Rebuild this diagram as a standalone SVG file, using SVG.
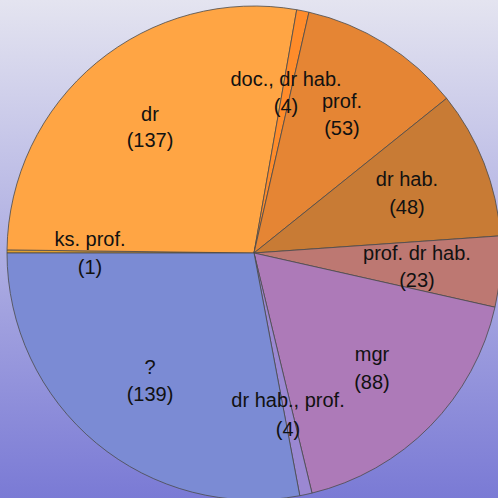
<svg xmlns="http://www.w3.org/2000/svg" width="498" height="498" viewBox="0 0 498 498">
<defs>
<linearGradient id="bg" x1="0" y1="0" x2="0" y2="1">
<stop offset="0" stop-color="#E4E4F0"/>
<stop offset="1" stop-color="#7A7AD5"/>
</linearGradient>
</defs>
<style>
.s{stroke:#4a4a4a;stroke-width:0.8;stroke-linejoin:round}
text{font-family:"Liberation Sans",Arial,sans-serif;font-size:20px;fill:#111;text-anchor:middle}
</style>
<rect width="498" height="498" fill="url(#bg)"/>
<g id="slices">
<g id="ks-prof"><path class="s" fill="#E0A030" d="M254,253 L7,253 A247,247 0 0 1 7.02,249.88 Z"/></g>
<g id="dr"><path class="s" fill="#FFA544" d="M254,253 L7.02,249.88 A247,247 0 0 1 296.73,9.73 Z"/></g>
<g id="doc-dr-hab"><path class="s" fill="#FF8C2B" d="M254,253 L296.73,9.73 A247,247 0 0 1 308.96,12.19 Z"/></g>
<g id="prof"><path class="s" fill="#E58534" d="M254,253 L308.96,12.19 A247,247 0 0 1 446.60,98.34 Z"/></g>
<g id="dr-hab"><path class="s" fill="#C87B35" d="M254,253 L446.60,98.34 A247,247 0 0 1 500.40,235.84 Z"/></g>
<g id="prof-dr-hab"><path class="s" fill="#BD7872" d="M254,253 L500.40,235.84 A247,247 0 0 1 494.98,307.20 Z"/></g>
<g id="mgr"><path class="s" fill="#AD7AB8" d="M254,253 L494.98,307.20 A247,247 0 0 1 312.00,493.09 Z"/></g>
<g id="dr-hab-prof"><path class="s" fill="#9B88D2" d="M254,253 L312.00,493.09 A247,247 0 0 1 299.79,495.72 Z"/></g>
<g id="unknown"><path class="s" fill="#7B8BD4" d="M254,253 L299.79,495.72 A247,247 0 0 1 7,253 Z"/></g>
</g>
<g id="labels">
<text x="150" y="121">dr</text><text x="150" y="147">(137)</text>
<text x="286" y="86">doc., dr hab.</text><text x="286" y="113">(4)</text>
<text x="342" y="108">prof.</text><text x="342" y="135">(53)</text>
<text x="407" y="186">dr hab.</text><text x="407" y="214">(48)</text>
<text x="417" y="260">prof. dr hab.</text><text x="417" y="287">(23)</text>
<text x="372" y="361">mgr</text><text x="372" y="389">(88)</text>
<text x="288" y="407">dr hab., prof.</text><text x="288" y="436">(4)</text>
<text x="150" y="374">?</text><text x="150" y="401">(139)</text>
<text x="90" y="246">ks. prof.</text><text x="90" y="274">(1)</text>
</g>
</svg>
